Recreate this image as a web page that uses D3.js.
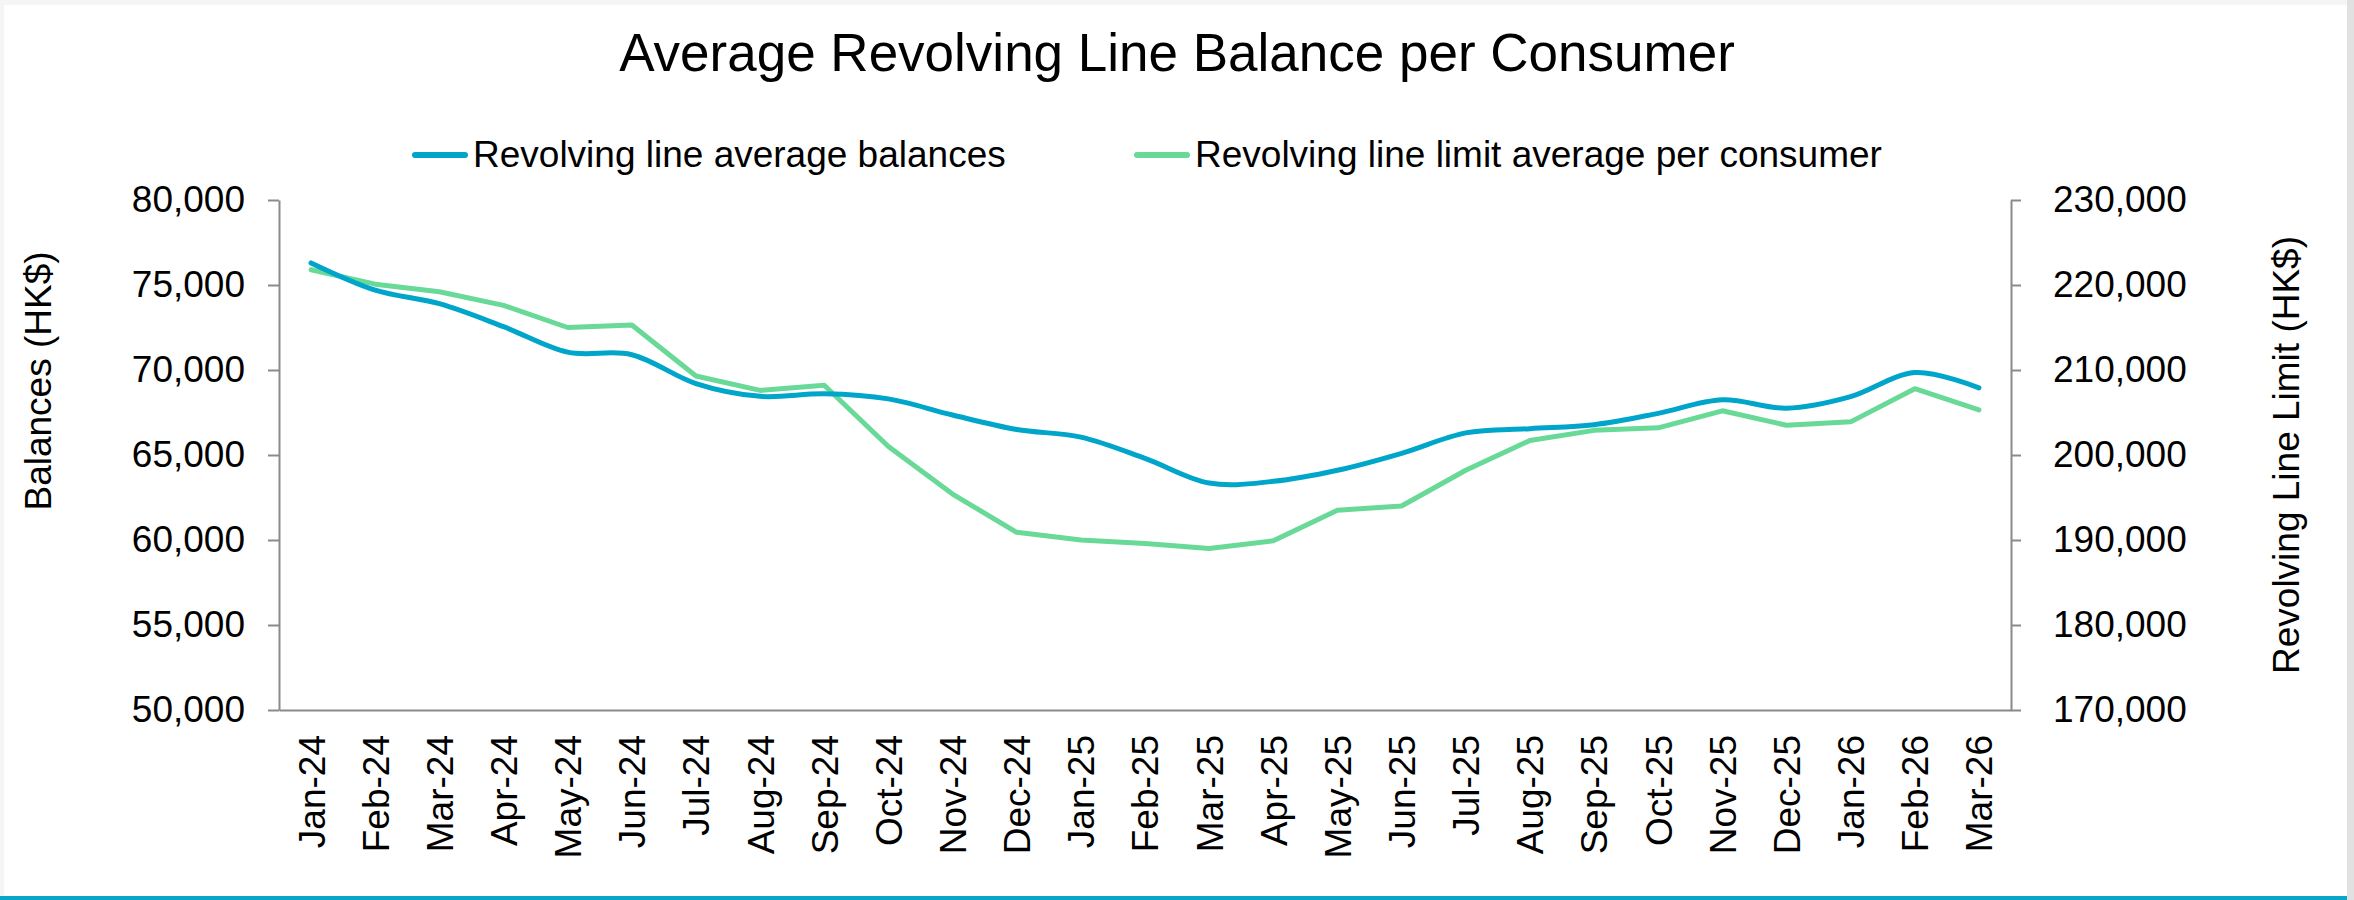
<!DOCTYPE html>
<html>
<head>
<meta charset="utf-8">
<script src="https://cdn.jsdelivr.net/npm/d3@7"></script>
<style>
  html, body { margin: 0; padding: 0; background: #ffffff; }
  svg { display: block; }
  text { font-family: "Liberation Sans", Arial, sans-serif; fill: #000; }
</style>
</head>
<body>
<svg id="chart" width="2354" height="900"></svg>
<script>
// Monthly categories
const months = ["Jan-24","Feb-24","Mar-24","Apr-24","May-24","Jun-24","Jul-24","Aug-24","Sep-24",
  "Oct-24","Nov-24","Dec-24","Jan-25","Feb-25","Mar-25","Apr-25","May-25","Jun-25","Jul-25",
  "Aug-25","Sep-25","Oct-25","Nov-25","Dec-25","Jan-26","Feb-26","Mar-26"];

// Revolving line average balances (HK$, left axis)
const balances = [76300, 74700, 73900, 72550, 71050, 70900, 69200, 68450, 68600,
  68300, 67350, 66500, 66050, 64800, 63350, 63450, 64100, 65100, 66300,
  66550, 66780, 67450, 68250, 67750, 68430, 69850, 68950];

// Revolving line limit average per consumer (HK$, right axis)
const limits = [221800, 220100, 219200, 217600, 215000, 215300, 209300, 207600, 208200,
  201000, 195400, 190900, 190000, 189600, 189000, 189900, 193500, 194000, 198200,
  201700, 202900, 203200, 205200, 203500, 203900, 207800, 205300];

const leftTicks = [50000, 55000, 60000, 65000, 70000, 75000, 80000];
const rightTicks = [170000, 180000, 190000, 200000, 210000, 220000, 230000];

const seriesNames = ["Revolving line average balances", "Revolving line limit average per consumer"];
const seriesColors = ["#00a5ca", "#69d998"];

const svg = d3.select("#chart");
const W = 2354, H = 900;
const plot = { left: 279, right: 2011, top: 200, bottom: 710 };
const axisColor = "#8a8a8a";
const fontSize = 37;

// Frame around the chart
svg.append("rect").attr("x", 0).attr("y", 0).attr("width", W).attr("height", H).attr("fill", "#f5f5f5");
svg.append("rect").attr("x", 4).attr("y", 5).attr("width", 2343).attr("height", 891).attr("fill", "#ffffff");
svg.append("rect").attr("x", 2347).attr("y", 0).attr("width", 7).attr("height", H).attr("fill", "#e1e1e1");
svg.append("rect").attr("x", 0).attr("y", 896).attr("width", 2347).attr("height", 4).attr("fill", "#0aa6c9");

// Scales
const x = d3.scalePoint().domain(months).range([plot.left, plot.right]).padding(0.5);
const yL = d3.scaleLinear().domain([50000, 80000]).range([plot.bottom, plot.top]);
const yR = d3.scaleLinear().domain([170000, 230000]).range([plot.bottom, plot.top]);

// Title
svg.append("text")
  .attr("x", W / 2).attr("y", 71)
  .attr("text-anchor", "middle")
  .style("font-size", "53px")
  .text("Average Revolving Line Balance per Consumer");

// Left axis
const gL = svg.append("g").attr("transform", `translate(${plot.left},0)`)
  .call(d3.axisLeft(yL).tickValues(leftTicks).tickFormat(d3.format(",")).tickSize(11).tickSizeOuter(0).tickPadding(23));
// Right axis
const gR = svg.append("g").attr("transform", `translate(${plot.right},0)`)
  .call(d3.axisRight(yR).tickValues(rightTicks).tickFormat(d3.format(",")).tickSize(10).tickSizeOuter(0).tickPadding(32));
// Bottom axis (category labels, no tick marks)
const gB = svg.append("g").attr("transform", `translate(0,${plot.bottom})`)
  .call(d3.axisBottom(x).tickSize(0).tickSizeOuter(0));

[gL, gR, gB].forEach(g => {
  g.select(".domain").attr("stroke", axisColor).attr("stroke-width", 2);
  g.selectAll(".tick line").attr("stroke", axisColor).attr("stroke-width", 2);
  g.selectAll("text").style("font-size", fontSize + "px")
    .style("font-family", "'Liberation Sans', Arial, sans-serif").attr("fill", "#000");
});

gB.selectAll(".tick text")
  .attr("transform", "rotate(-90)")
  .attr("text-anchor", "end")
  .attr("x", -25)
  .attr("y", 0)
  .attr("dy", "0.35em");

// Axis titles
svg.append("text")
  .attr("transform", "translate(38,381) rotate(-90)")
  .attr("text-anchor", "middle").attr("dy", "0.35em")
  .style("font-size", fontSize + "px")
  .text("Balances (HK$)");
svg.append("text")
  .attr("transform", "translate(2286,455) rotate(-90)")
  .attr("text-anchor", "middle").attr("dy", "0.35em")
  .style("font-size", fontSize + "px")
  .text("Revolving Line Limit (HK$)");

// Series lines
const balanceLine = d3.line()
  .x((d, i) => x(months[i]))
  .y(d => yL(d))
  .curve(d3.curveCardinal.tension(0));
const limitLine = d3.line()
  .x((d, i) => x(months[i]))
  .y(d => yR(d));

svg.append("path").datum(limits)
  .attr("d", limitLine)
  .attr("fill", "none").attr("stroke", seriesColors[1]).attr("stroke-width", 5)
  .attr("stroke-linecap", "round").attr("stroke-linejoin", "round");
svg.append("path").datum(balances)
  .attr("d", balanceLine)
  .attr("fill", "none").attr("stroke", seriesColors[0]).attr("stroke-width", 5)
  .attr("stroke-linecap", "round").attr("stroke-linejoin", "round");

// Legend
const legendItems = [
  { name: seriesNames[0], color: seriesColors[0], x: 412 },
  { name: seriesNames[1], color: seriesColors[1], x: 1134 }
];
const lg = svg.append("g");
legendItems.forEach(it => {
  lg.append("line")
    .attr("x1", it.x + 3).attr("x2", it.x + 53)
    .attr("y1", 155).attr("y2", 155)
    .attr("stroke", it.color).attr("stroke-width", 6).attr("stroke-linecap", "round");
  lg.append("text")
    .attr("x", it.x + 61).attr("y", 167)
    .style("font-size", fontSize + "px")
    .text(it.name);
});
</script>
</body>
</html>
